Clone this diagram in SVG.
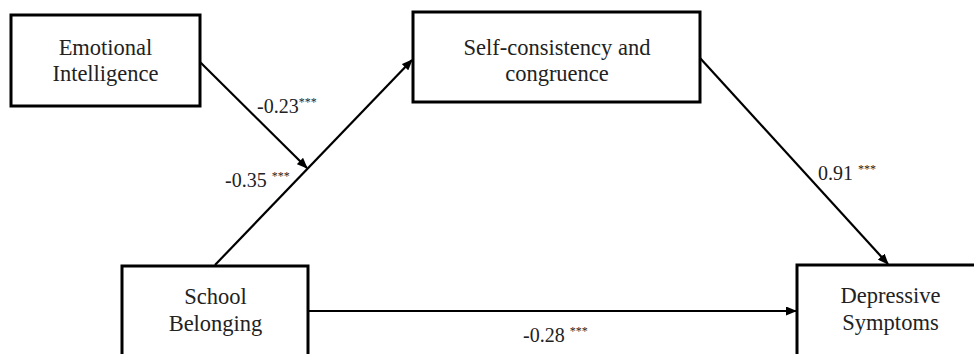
<svg xmlns="http://www.w3.org/2000/svg" width="974" height="354" viewBox="0 0 974 354">
<style>
.box{fill:#fff;stroke:#000;stroke-width:3}
.nt{font-family:"Liberation Serif","Times New Roman",serif;font-size:22.5px;fill:#222;text-anchor:middle}
.lb{font-family:"Liberation Serif","Times New Roman",serif;font-size:20px;fill:#222}
.st{font-size:12px}
.ln{stroke:#000;stroke-width:2.2;fill:none;marker-end:url(#ah)}
</style>
<defs>
<marker id="ah" markerUnits="userSpaceOnUse" markerWidth="11" markerHeight="9" refX="10" refY="4.5" orient="auto">
<path d="M0,0 L11,4.5 L0,9 z" fill="#000"/>
</marker>
</defs>
<rect width="974" height="354" fill="#fff"/>
<g id="connectors">
<line class="ln" x1="200" y1="62" x2="307" y2="168"/>
<line class="ln" x1="215" y1="265" x2="412" y2="60"/>
<line class="ln" x1="700" y1="58" x2="888" y2="264"/>
<line class="ln" x1="309" y1="311" x2="796" y2="311"/>
</g>
<g id="emotional-intelligence">
<rect class="box" x="11" y="15" width="189" height="91"/>
<text class="nt" x="105.5" y="55">Emotional</text>
<text class="nt" x="105.5" y="81">Intelligence</text>
</g>
<g id="self-consistency">
<rect class="box" x="413" y="12" width="287" height="90"/>
<text class="nt" x="557" y="55">Self-consistency and</text>
<text class="nt" x="557" y="81">congruence</text>
</g>
<g id="school-belonging">
<rect class="box" x="122" y="266" width="186" height="100"/>
<text class="nt" x="215.5" y="304">School</text>
<text class="nt" x="215.5" y="331">Belonging</text>
</g>
<g id="depressive-symptoms">
<rect class="box" x="797" y="265" width="188" height="100"/>
<text class="nt" x="890.5" y="303">Depressive</text>
<text class="nt" x="890.5" y="330">Symptoms</text>
</g>
<g id="labels">
<text class="lb" x="257" y="113">-0.23<tspan class="st" dy="-7">***</tspan></text>
<text class="lb" x="225" y="187">-0.35 <tspan class="st" dy="-7">***</tspan></text>
<text class="lb" x="818" y="180">0.91 <tspan class="st" dy="-7">***</tspan></text>
<text class="lb" x="523" y="342">-0.28 <tspan class="st" dy="-7">***</tspan></text>
</g>
</svg>
